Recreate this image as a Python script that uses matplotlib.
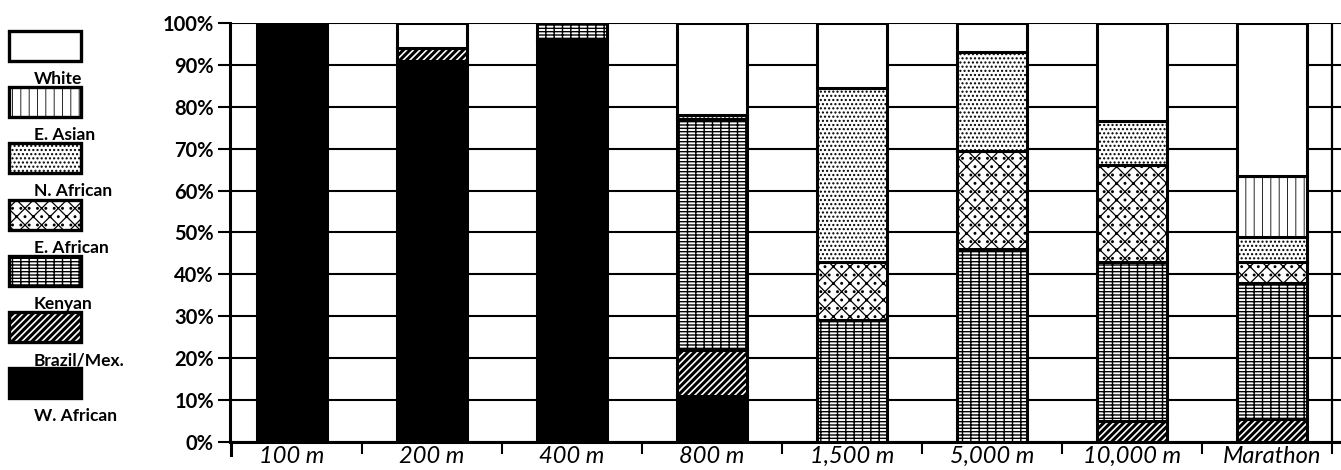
import matplotlib
matplotlib.use('Agg')
import matplotlib.pyplot as plt
import numpy as np
from matplotlib.patches import Rectangle

plt.rcParams['font.family'] = ['Lato', 'DejaVu Sans']

#-----------------------------------
events = ['100 m', '200 m', '400 m', '800 m', '1,500 m', '5,000 m', '10,000 m', 'Marathon']
w_african  = [100, 91, 96, 11, 0, 0, 0, 0]
brazil_mex = [0, 3, 0, 11, 0, 0, 5, 5.5]
kenyan     = [0, 0, 4, 55, 29, 46, 38, 32.5]
e_african  = [0, 0, 0, 0, 14, 23.5, 23, 5]
n_african  = [0, 0, 0, 1, 41.5, 23.5, 10.5, 6]
e_asian    = [0, 0, 0, 0, 0, 0, 0, 14.5]
white      = [0, 6, 0, 22, 15.5, 7, 23.5, 36.5]
y_ticks = [0, 10, 20, 30, 40, 50, 60, 70, 80, 90, 100]
#-----------------------------------

# bottom -> top: (label, values, facecolor, hatch, hatch linewidth)
groups = [
    ('W. African',  w_african,  'black', None,        1.0),
    ('Brazil/Mex.', brazil_mex, 'white', '/////',     2.2),
    ('Kenyan',      kenyan,     'white', '||-----',   1.0),
    ('E. African',  e_african,  'white', 'xx..',      0.9),
    ('N. African',  n_african,  'white', '....',      1.0),
    ('E. Asian',    e_asian,    'white', '||',        0.6),
    ('White',       white,      'white', None,        1.0),
]

W, H = 1341, 470
fig = plt.figure(figsize=(W/100, H/100), dpi=100)
ax = fig.add_axes([230/W, 1-442/H, 1-230/W, (442-23)/H])

x = np.arange(len(events))
width = 0.5
bottom = np.zeros(len(events))
for label, vals, fc, hatch, hlw in groups:
    vals = np.array(vals, dtype=float)
    m = vals > 0
    with plt.rc_context({'hatch.linewidth': hlw}):
        ax.bar(x[m], vals[m], width, bottom=bottom[m], color=fc, edgecolor='black',
               hatch=hatch, linewidth=2.2, zorder=3)
    bottom += vals

x_left, x_right = -0.443, 7.493
ax.set_xlim(x_left, x_right)
ax.set_ylim(0, 100)
ax.set_yticks(y_ticks)
ax.set_yticklabels(['%d%%' % v for v in y_ticks], fontsize=14.5, fontweight='bold')
ax.yaxis.grid(True, color='black', linewidth=1.5, zorder=0)
ax.set_axisbelow(True)
ax.tick_params(axis='y', length=8.6, width=1.5, pad=3, direction='out')

ax.set_xticks(x)
ax.set_xticklabels(events, fontsize=17, style='italic')
ax.set_xticks(list(np.arange(0.5, 7.0, 1.0)) + [7.43], minor=True)
ax.tick_params(axis='x', which='major', length=0, pad=3)
ax.tick_params(axis='x', which='minor', length=8.6, width=1.5)
ax.axvline(7.43, color='black', linewidth=1.6, zorder=2)

for s in ['top', 'right']:
    ax.spines[s].set_visible(False)
ax.spines['left'].set_linewidth(2.2)
ax.spines['bottom'].set_linewidth(2.2)
ax.spines['left'].set_bounds(0, 100)
ax.plot([x_left + 0.005, x_left + 0.005], [0, -3], color='black', linewidth=2.2, clip_on=False)

# legend on the left, drawn in pixel units
lg = fig.add_axes([0, 0, 175/W, 1])
lg.set_xlim(0, 175)
lg.set_ylim(H, 0)
lg.axis('off')
for i, (label, vals, fc, hatch, hlw) in enumerate(groups[::-1]):
    top = 31 + i * 56.2
    with plt.rc_context({'hatch.linewidth': hlw}):
        lg.add_patch(Rectangle((9, top), 72, 30, facecolor=fc, edgecolor='black',
                               hatch=hatch, linewidth=2.4))
    lg.text(34, top + 48, label, ha='left', va='center', fontsize=12.5,
            fontweight='bold')

fig.savefig('out.png', dpi=100)
